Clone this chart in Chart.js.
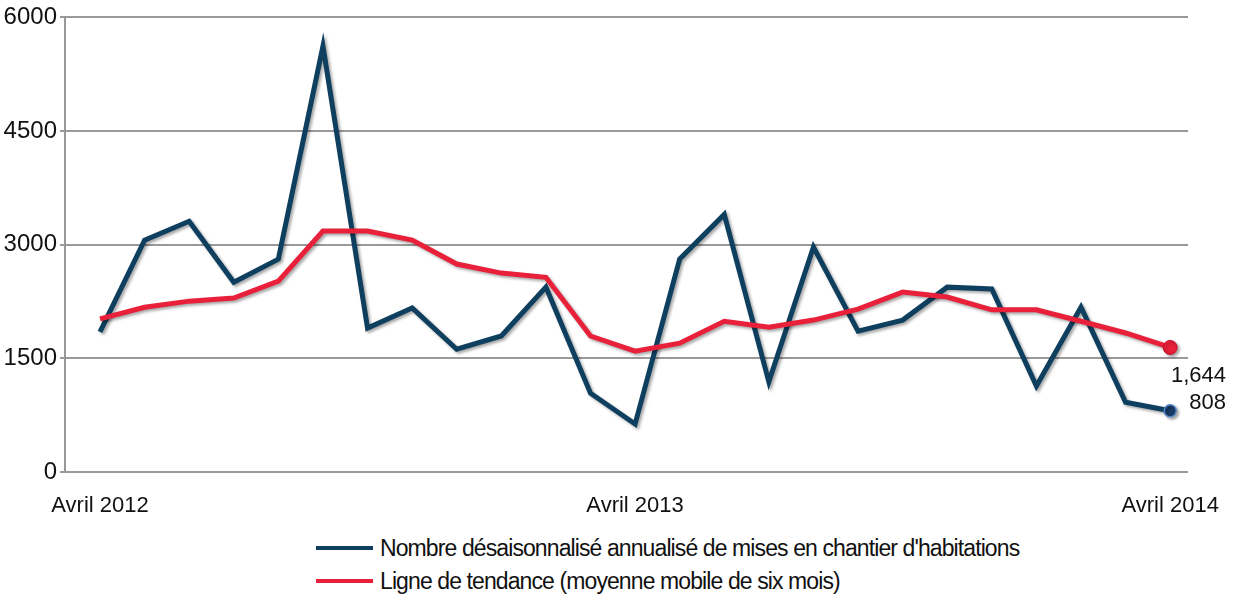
<!DOCTYPE html>
<html lang="fr">
<head>
<meta charset="UTF-8">
<title>Mises en chantier</title>
<script src="https://cdn.jsdelivr.net/npm/chart.js"></script>
<style>
    body { margin: 0; background: #fff; font-family: "Liberation Sans", Arial, sans-serif; }
    #wrap { position: relative; width: 1238px; height: 601px; }
    #box { position: absolute; left: 0; top: 0; width: 1238px; height: 525px; }
    .leg { position: absolute; left: 316px; font-size: 23px; letter-spacing: -0.9px; color: #111; white-space: nowrap; }
    .leg span { display: inline-block; width: 57px; height: 4px; vertical-align: middle; margin-right: 7px; position: relative; top: -2px; }
</style>
</head>
<body>
<div id="wrap">
    <div id="box"><canvas id="chart"></canvas></div>
    <div class="leg" style="top:535px"><span style="background:#0f3f5f"></span>Nombre désaisonnalisé annualisé de mises en chantier d'habitations</div>
    <div class="leg" style="top:568px"><span style="background:#e8203a"></span>Ligne de tendance (moyenne mobile de six mois)</div>
</div>
<script>
// avril 2012 -> avril 2014, un point par mois
const months = ['Avril 2012', 'Mai 2012', 'Juin 2012', 'Juil. 2012', 'Août 2012', 'Sept. 2012',
    'Oct. 2012', 'Nov. 2012', 'Déc. 2012', 'Janv. 2013', 'Févr. 2013', 'Mars 2013',
    'Avril 2013', 'Mai 2013', 'Juin 2013', 'Juil. 2013', 'Août 2013', 'Sept. 2013',
    'Oct. 2013', 'Nov. 2013', 'Déc. 2013', 'Janv. 2014', 'Févr. 2014', 'Mars 2014', 'Avril 2014'];
const shownTicks = [0, 12, 24];
const starts = [1850, 3060, 3310, 2505, 2810, 5620, 1900, 2165, 1620, 1795, 2440, 1040,
    633, 2810, 3400, 1190, 2970, 1860, 2005, 2440, 2415, 1135, 2175, 920, 808];
const trend = [2020, 2175, 2255, 2295, 2520, 3180, 3180, 3060, 2745, 2625, 2570, 1795,
    1595, 1700, 1990, 1910, 2005, 2150, 2375, 2310, 2140, 2140, 1990, 1835, 1644];
const yTicks = [0, 1500, 3000, 4500, 6000];

const toPts = arr => arr.map((v, i) => ({ x: i, y: v }));
const last = starts.length - 1;

// ombre portée sous les courbes
const shadow = {
    id: 'shadow',
    beforeDatasetDraw(chart) {
        const c = chart.ctx;
        c.save();
        c.shadowColor = 'rgba(0,0,0,0.35)';
        c.shadowBlur = 3;
        c.shadowOffsetX = 2;
        c.shadowOffsetY = 2;
    },
    afterDatasetDraw(chart) { chart.ctx.restore(); }
};

// étiquettes des dernières valeurs
const endLabels = {
    id: 'endLabels',
    afterDatasetsDraw(chart) {
        const c = chart.ctx;
        c.save();
        c.font = '22px "Liberation Sans", Arial, sans-serif';
        c.fillStyle = '#111';
        c.textAlign = 'right';
        c.textBaseline = 'middle';
        const y = chart.scales.y;
        c.fillText(trend[last].toLocaleString('en-US'), 1226, y.getPixelForValue(trend[last]) + 28);
        c.fillText(String(starts[last]), 1226, y.getPixelForValue(starts[last]) - 8);
        c.restore();
    }
};

new Chart(document.getElementById('chart'), {
    type: 'line',
    data: {
        datasets: [
            {
                label: "Nombre désaisonnalisé annualisé de mises en chantier d'habitations",
                data: toPts(starts),
                borderColor: '#0f3f5f',
                borderWidth: 5,
                tension: 0,
                order: 1,
                pointRadius: starts.map((v, i) => i === last ? 6 : 0),
                pointBackgroundColor: '#1a3a66',
                pointBorderColor: '#4f86c6',
                pointBorderWidth: 1.5
            },
            {
                label: 'Ligne de tendance (moyenne mobile de six mois)',
                data: toPts(trend),
                borderColor: '#e8203a',
                borderWidth: 5,
                tension: 0,
                order: 0,
                pointRadius: trend.map((v, i) => i === last ? 7 : 0),
                pointBackgroundColor: '#e8203a',
                pointBorderColor: '#c8102a',
                pointBorderWidth: 1
            }
        ]
    },
    options: {
        animation: false,
        responsive: true,
        maintainAspectRatio: false,
        layout: { padding: { left: 0, right: 50, top: 17, bottom: 0 } },
        plugins: { legend: { display: false }, tooltip: { enabled: false } },
        scales: {
            x: {
                type: 'linear',
                min: -0.785,
                max: 24.4,
                afterFit: s => { s.height = 53; },
                afterBuildTicks: s => { s.ticks = shownTicks.map(v => ({ value: v })); },
                ticks: {
                    autoSkip: false,
                    maxRotation: 0,
                    padding: 13,
                    color: '#111',
                    font: { family: '"Liberation Sans", Arial, sans-serif', size: 22 },
                    callback: v => months[v]
                },
                grid: { display: false },
                border: { display: false }
            },
            y: {
                min: 0,
                max: 6000,
                afterFit: s => { s.width = 65; },
                afterBuildTicks: s => { s.ticks = yTicks.map(v => ({ value: v })); },
                ticks: {
                    padding: 3,
                    color: '#111',
                    font: { family: '"Liberation Sans", Arial, sans-serif', size: 24 },
                    callback: v => String(v)
                },
                grid: { color: '#999', lineWidth: 2, tickLength: 5 },
                border: { color: '#999', width: 2 }
            }
        }
    },
    plugins: [shadow, endLabels]
});
</script>
</body>
</html>
